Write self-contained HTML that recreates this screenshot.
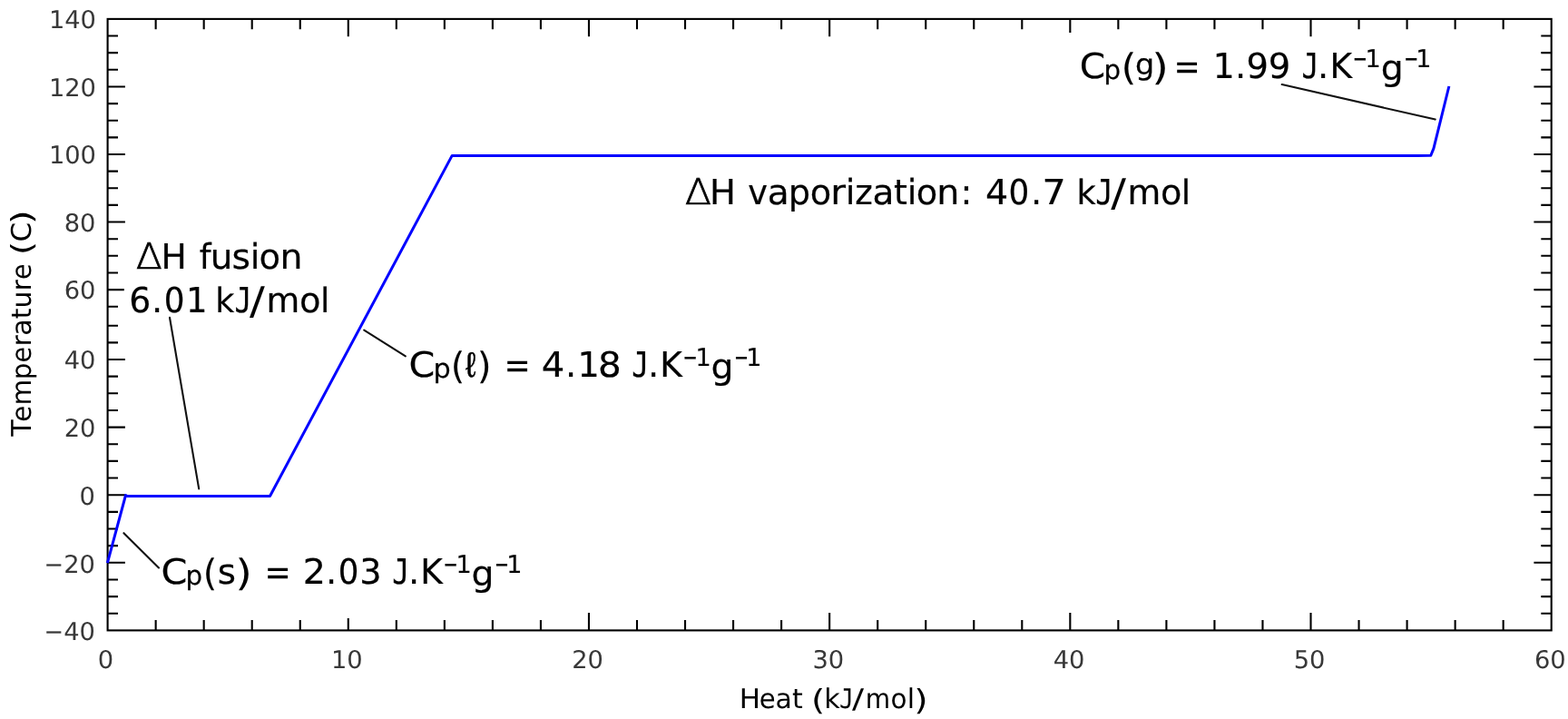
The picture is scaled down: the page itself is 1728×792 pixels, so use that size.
<!DOCTYPE html>
<html lang="en"><head><meta charset="utf-8"><title>Heating curve of water</title>
<style>html,body{margin:0;padding:0;background:#fff;overflow:hidden}svg{display:block}text{font-family:'DejaVu Sans','Liberation Sans',sans-serif;white-space:pre;text-rendering:geometricPrecision}.dvm{font-family:'DejaVu Sans Mono','Liberation Mono',monospace}.ls{font-family:'Liberation Sans','DejaVu Sans',sans-serif}.lse{font-family:'Liberation Serif','DejaVu Serif',serif}.dvx{font-family:'DejaVu Sans','Liberation Sans',sans-serif;font-weight:200}</style></head><body>
<svg width="1728" height="792" viewBox="0 0 1728 792">
<rect width="1728" height="792" fill="#ffffff"/>
<path d="M171.64 694.40v-11.40M171.64 20.90v11.40M224.67 694.40v-11.40M224.67 20.90v11.40M277.71 694.40v-11.40M277.71 20.90v11.40M330.75 694.40v-11.40M330.75 20.90v11.40M383.78 694.40v-13.30M383.78 20.90v19.30M436.82 694.40v-11.40M436.82 20.90v11.40M489.86 694.40v-11.40M489.86 20.90v11.40M542.89 694.40v-11.40M542.89 20.90v11.40M595.93 694.40v-11.40M595.93 20.90v11.40M648.97 694.40v-19.30M648.97 20.90v19.30M702.00 694.40v-11.40M702.00 20.90v11.40M755.04 694.40v-11.40M755.04 20.90v11.40M808.08 694.40v-11.40M808.08 20.90v11.40M861.11 694.40v-11.40M861.11 20.90v11.40M914.15 694.40v-19.30M914.15 20.90v19.30M967.19 694.40v-11.40M967.19 20.90v11.40M1020.22 694.40v-11.40M1020.22 20.90v11.40M1073.26 694.40v-11.40M1073.26 20.90v11.40M1126.30 694.40v-11.40M1126.30 20.90v11.40M1179.33 694.40v-19.30M1179.33 20.90v15.00M1232.37 694.40v-11.40M1232.37 20.90v11.40M1285.41 694.40v-11.40M1285.41 20.90v11.40M1338.44 694.40v-11.40M1338.44 20.90v11.40M1391.48 694.40v-11.40M1391.48 20.90v11.40M1444.52 694.40v-19.30M1444.52 20.90v19.30M1497.55 694.40v-11.40M1497.55 20.90v11.40M1550.59 694.40v-11.40M1550.59 20.90v11.40M1603.63 694.40v-11.40M1603.63 20.90v11.40M1656.66 694.40v-11.40M1656.66 20.90v11.40M118.60 675.75h11.40M1709.70 675.75h-11.40M118.60 657.10h11.40M1709.70 657.10h-11.40M118.60 638.45h11.40M1709.70 638.45h-11.40M118.60 619.80h19.30M1709.70 619.80h-19.30M118.60 601.15h11.40M1709.70 601.15h-11.40M118.60 582.50h11.40M1709.70 582.50h-11.40M118.60 563.85h11.40M1709.70 563.85h-11.40M118.60 545.20h19.30M1709.70 545.20h-19.30M118.60 526.55h11.40M1709.70 526.55h-11.40M118.60 507.90h11.40M1709.70 507.90h-11.40M118.60 489.25h11.40M1709.70 489.25h-11.40M118.60 470.60h19.30M1709.70 470.60h-19.30M118.60 451.95h11.40M1709.70 451.95h-11.40M118.60 433.30h11.40M1709.70 433.30h-11.40M118.60 414.65h11.40M1709.70 414.65h-11.40M118.60 396.00h19.30M1709.70 396.00h-19.30M118.60 377.35h11.40M1709.70 377.35h-11.40M118.60 358.70h11.40M1709.70 358.70h-11.40M118.60 337.74h11.40M1709.70 337.74h-11.40M118.60 319.10h18.20M1709.70 319.10h-19.30M118.60 300.46h11.40M1709.70 300.46h-11.40M118.60 281.82h11.40M1709.70 281.82h-11.40M118.60 263.19h11.40M1709.70 263.19h-11.40M118.60 244.55h19.30M1709.70 244.55h-19.30M118.60 225.91h11.40M1709.70 225.91h-11.40M118.60 207.28h11.40M1709.70 207.28h-11.40M118.60 188.64h11.40M1709.70 188.64h-11.40M118.60 170.00h19.30M1709.70 170.00h-19.30M118.60 151.36h11.40M1709.70 151.36h-11.40M118.60 132.72h11.40M1709.70 132.72h-11.40M118.60 114.09h11.40M1709.70 114.09h-11.40M118.60 95.45h19.30M1709.70 95.45h-19.30M118.60 76.81h11.40M1709.70 76.81h-11.40M118.60 58.17h11.40M1709.70 58.17h-11.40M118.60 39.54h11.40M1709.70 39.54h-11.40" stroke="#000" stroke-width="2.10" fill="none"/>
<rect x="118.60" y="20.90" width="1591.10" height="673.50" fill="none" stroke="#000" stroke-width="2.10"/>
<polyline points="118.4,620.2 138.5,545.5 140.4,546.5 297.5,546.5 498.2,171.4 1562.0,171.4 1576.8,171.2 1579.9,163.6 1596.9,95.0" fill="none" stroke="#0000ff" stroke-width="3" stroke-linejoin="round"/>
<line x1="136.4" y1="587.2" x2="175.0" y2="625.4" stroke="#111" stroke-width="2.1" stroke-linecap="round"/>
<line x1="187.0" y1="349.8" x2="219.2" y2="538.4" stroke="#111" stroke-width="2.1" stroke-linecap="round"/>
<line x1="401.2" y1="363.6" x2="446.9" y2="392.3" stroke="#111" stroke-width="2.1" stroke-linecap="round"/>
<line x1="1412.7" y1="93.1" x2="1581.7" y2="131.6" stroke="#111" stroke-width="2.1" stroke-linecap="round"/>
<text font-size="27.10" fill="#383838"><tspan textLength="17.37" lengthAdjust="spacingAndGlyphs" x="54.04" y="31.00">1</tspan><tspan textLength="17.41" lengthAdjust="spacingAndGlyphs" x="71.27" y="31.00">4</tspan><tspan textLength="17.40" lengthAdjust="spacingAndGlyphs" x="88.52" y="31.00">0</tspan></text>
<text font-size="27.10" fill="#383838"><tspan textLength="17.37" lengthAdjust="spacingAndGlyphs" x="54.04" y="106.00">1</tspan><tspan textLength="17.38" lengthAdjust="spacingAndGlyphs" x="71.28" y="106.00">2</tspan><tspan textLength="17.40" lengthAdjust="spacingAndGlyphs" x="88.52" y="106.00">0</tspan></text>
<text font-size="27.10" fill="#383838"><tspan textLength="17.37" lengthAdjust="spacingAndGlyphs" x="54.04" y="180.00">1</tspan><tspan textLength="17.40" lengthAdjust="spacingAndGlyphs" x="71.27" y="180.00">0</tspan><tspan textLength="17.40" lengthAdjust="spacingAndGlyphs" x="88.52" y="180.00">0</tspan></text>
<text font-size="27.10" fill="#383838"><tspan textLength="17.40" lengthAdjust="spacingAndGlyphs" x="70.72" y="255.00">8</tspan><tspan textLength="17.40" lengthAdjust="spacingAndGlyphs" x="87.97" y="255.00">0</tspan></text>
<text font-size="27.10" fill="#383838"><tspan textLength="17.40" lengthAdjust="spacingAndGlyphs" x="70.72" y="329.00">6</tspan><tspan textLength="17.40" lengthAdjust="spacingAndGlyphs" x="87.97" y="329.00">0</tspan></text>
<text font-size="27.10" fill="#383838"><tspan textLength="17.41" lengthAdjust="spacingAndGlyphs" x="70.72" y="406.00">4</tspan><tspan textLength="17.40" lengthAdjust="spacingAndGlyphs" x="87.97" y="406.00">0</tspan></text>
<text font-size="27.10" fill="#383838"><tspan textLength="17.38" lengthAdjust="spacingAndGlyphs" x="70.73" y="481.00">2</tspan><tspan textLength="17.40" lengthAdjust="spacingAndGlyphs" x="87.97" y="481.00">0</tspan></text>
<text font-size="27.10" fill="#383838"><tspan textLength="17.40" lengthAdjust="spacingAndGlyphs" x="87.57" y="556.00">0</tspan></text>
<text font-size="27.10" fill="#383838"><tspan textLength="21.57" lengthAdjust="spacingAndGlyphs" x="48.51" y="631.00">−</tspan><tspan textLength="17.38" lengthAdjust="spacingAndGlyphs" x="70.33" y="631.00">2</tspan><tspan textLength="17.40" lengthAdjust="spacingAndGlyphs" x="87.57" y="631.00">0</tspan></text>
<text font-size="27.10" fill="#383838"><tspan textLength="21.57" lengthAdjust="spacingAndGlyphs" x="48.51" y="705.00">−</tspan><tspan textLength="17.41" lengthAdjust="spacingAndGlyphs" x="70.32" y="705.00">4</tspan><tspan textLength="17.40" lengthAdjust="spacingAndGlyphs" x="87.57" y="705.00">0</tspan></text>
<text font-size="27.10" fill="#383838"><tspan textLength="17.40" lengthAdjust="spacingAndGlyphs" x="107.75" y="736.00">0</tspan></text>
<text font-size="27.10" fill="#383838"><tspan textLength="17.37" lengthAdjust="spacingAndGlyphs" x="365.12" y="736.00">1</tspan><tspan textLength="17.40" lengthAdjust="spacingAndGlyphs" x="382.36" y="736.00">0</tspan></text>
<text font-size="27.10" fill="#383838"><tspan textLength="17.38" lengthAdjust="spacingAndGlyphs" x="630.30" y="736.00">2</tspan><tspan textLength="17.40" lengthAdjust="spacingAndGlyphs" x="647.54" y="736.00">0</tspan></text>
<text font-size="27.10" fill="#383838"><tspan textLength="17.39" lengthAdjust="spacingAndGlyphs" x="895.48" y="736.00">3</tspan><tspan textLength="17.40" lengthAdjust="spacingAndGlyphs" x="912.72" y="736.00">0</tspan></text>
<text font-size="27.10" fill="#383838"><tspan textLength="17.41" lengthAdjust="spacingAndGlyphs" x="1160.65" y="736.00">4</tspan><tspan textLength="17.40" lengthAdjust="spacingAndGlyphs" x="1177.91" y="736.00">0</tspan></text>
<text font-size="27.10" fill="#383838"><tspan textLength="17.38" lengthAdjust="spacingAndGlyphs" x="1425.85" y="736.00">5</tspan><tspan textLength="17.40" lengthAdjust="spacingAndGlyphs" x="1443.09" y="736.00">0</tspan></text>
<text font-size="27.10" fill="#383838"><tspan textLength="17.40" lengthAdjust="spacingAndGlyphs" x="1691.02" y="736.00">6</tspan><tspan textLength="17.40" lengthAdjust="spacingAndGlyphs" x="1708.27" y="736.00">0</tspan></text>
<text font-size="38.40" fill="#000000" stroke="#000000" stroke-width="0.20"><tspan textLength="28.92" lengthAdjust="spacingAndGlyphs" x="177.55" y="643.00">C</tspan><tspan textLength="18.62" lengthAdjust="spacingAndGlyphs" x="204.61" y="644.00" font-size="29.30">p</tspan><tspan textLength="15.58" lengthAdjust="spacingAndGlyphs" x="223.74" y="645.00" font-size="40.50" stroke="none">(</tspan><tspan textLength="20.26" lengthAdjust="spacingAndGlyphs" x="239.67" y="643.00">s</tspan><tspan textLength="18.71" lengthAdjust="spacingAndGlyphs" x="259.33" y="645.00" font-size="40.50" stroke="none">)</tspan><tspan x="280.00" y="643.00"> </tspan><tspan textLength="29.25" lengthAdjust="spacingAndGlyphs" x="291.38" y="644.00" font-size="40.00" stroke="none">=</tspan><tspan x="325.00" y="643.00"> </tspan><tspan textLength="25.22" lengthAdjust="spacingAndGlyphs" x="333.87" y="643.00">2</tspan><tspan x="359.02" y="643.00">.</tspan><tspan textLength="22.66" lengthAdjust="spacingAndGlyphs" x="372.83" y="643.00">0</tspan><tspan textLength="24.32" lengthAdjust="spacingAndGlyphs" x="396.16" y="643.00">3</tspan><tspan x="422.00" y="643.00"> </tspan><tspan textLength="19.00" lengthAdjust="spacingAndGlyphs" x="432.30" y="643.00" class="dvm">J</tspan><tspan x="449.92" y="643.00">.</tspan><tspan textLength="24.65" lengthAdjust="spacingAndGlyphs" x="463.29" y="643.00">K</tspan><tspan textLength="16.26" lengthAdjust="spacingAndGlyphs" x="488.62" y="631.00" font-size="28.00">−</tspan><tspan x="502.42" y="631.00" font-size="27.00">1</tspan><tspan textLength="25.00" lengthAdjust="spacingAndGlyphs" x="519.60" y="645.00">g</tspan><tspan textLength="16.00" lengthAdjust="spacingAndGlyphs" x="545.05" y="631.00" font-size="28.00">−</tspan><tspan x="558.27" y="631.00" font-size="27.00">1</tspan></text>
<text font-size="38.40" fill="#000000" stroke="#000000" stroke-width="0.20"><tspan textLength="28.80" lengthAdjust="spacingAndGlyphs" x="450.56" y="415.00">C</tspan><tspan textLength="19.27" lengthAdjust="spacingAndGlyphs" x="477.42" y="416.00" font-size="29.30">p</tspan><tspan textLength="15.58" lengthAdjust="spacingAndGlyphs" x="496.74" y="417.00" font-size="40.50" stroke="none">(</tspan><tspan textLength="11.50" lengthAdjust="spacingAndGlyphs" x="513.05" y="415.00" class="ls" font-size="38.60" stroke-width="0.50">ℓ</tspan><tspan textLength="15.93" lengthAdjust="spacingAndGlyphs" x="525.71" y="417.00" font-size="40.50" stroke="none">)</tspan><tspan x="544.00" y="415.00"> </tspan><tspan textLength="29.25" lengthAdjust="spacingAndGlyphs" x="555.38" y="416.00" font-size="40.00" stroke="none">=</tspan><tspan x="589.00" y="415.00"> </tspan><tspan textLength="25.57" lengthAdjust="spacingAndGlyphs" x="596.81" y="415.00">4</tspan><tspan x="623.02" y="415.00">.</tspan><tspan textLength="24.26" lengthAdjust="spacingAndGlyphs" x="636.49" y="415.00">1</tspan><tspan textLength="25.77" lengthAdjust="spacingAndGlyphs" x="659.13" y="415.00">8</tspan><tspan x="686.00" y="415.00"> </tspan><tspan textLength="19.00" lengthAdjust="spacingAndGlyphs" x="696.30" y="415.00" class="dvm">J</tspan><tspan x="713.92" y="415.00">.</tspan><tspan textLength="24.65" lengthAdjust="spacingAndGlyphs" x="727.29" y="415.00">K</tspan><tspan textLength="16.26" lengthAdjust="spacingAndGlyphs" x="752.62" y="403.00" font-size="28.00">−</tspan><tspan x="766.42" y="403.00" font-size="27.00">1</tspan><tspan textLength="25.00" lengthAdjust="spacingAndGlyphs" x="783.60" y="417.00">g</tspan><tspan textLength="16.00" lengthAdjust="spacingAndGlyphs" x="809.05" y="403.00" font-size="28.00">−</tspan><tspan x="822.27" y="403.00" font-size="27.00">1</tspan></text>
<text font-size="38.40" fill="#000000" stroke="#000000" stroke-width="0.20"><tspan textLength="28.45" lengthAdjust="spacingAndGlyphs" x="1189.89" y="86.00">C</tspan><tspan textLength="18.62" lengthAdjust="spacingAndGlyphs" x="1216.61" y="87.00" font-size="29.30">p</tspan><tspan textLength="16.97" lengthAdjust="spacingAndGlyphs" x="1235.44" y="88.00" font-size="40.50" stroke="none">(</tspan><tspan textLength="21.23" lengthAdjust="spacingAndGlyphs" x="1251.13" y="82.00" font-size="32.00">g</tspan><tspan textLength="18.71" lengthAdjust="spacingAndGlyphs" x="1269.33" y="88.00" font-size="40.50" stroke="none">)</tspan><tspan x="1282.10" y="86.00"> </tspan><tspan textLength="29.25" lengthAdjust="spacingAndGlyphs" x="1293.48" y="87.00" font-size="40.00" stroke="none">=</tspan><tspan x="1327.10" y="86.00"> </tspan><tspan textLength="23.96" lengthAdjust="spacingAndGlyphs" x="1336.64" y="86.00">1</tspan><tspan x="1361.12" y="86.00">.</tspan><tspan textLength="24.48" lengthAdjust="spacingAndGlyphs" x="1373.45" y="86.00">9</tspan><tspan textLength="24.48" lengthAdjust="spacingAndGlyphs" x="1397.65" y="86.00">9</tspan><tspan x="1424.10" y="86.00"> </tspan><tspan textLength="19.00" lengthAdjust="spacingAndGlyphs" x="1434.40" y="86.00" class="dvm">J</tspan><tspan x="1452.02" y="86.00">.</tspan><tspan textLength="24.65" lengthAdjust="spacingAndGlyphs" x="1465.39" y="86.00">K</tspan><tspan textLength="16.26" lengthAdjust="spacingAndGlyphs" x="1490.72" y="74.00" font-size="28.00">−</tspan><tspan x="1504.52" y="74.00" font-size="27.00">1</tspan><tspan textLength="25.00" lengthAdjust="spacingAndGlyphs" x="1521.70" y="88.00">g</tspan><tspan textLength="16.00" lengthAdjust="spacingAndGlyphs" x="1547.15" y="74.00" font-size="28.00">−</tspan><tspan x="1560.37" y="74.00" font-size="27.00">1</tspan></text>
<text font-size="38.40" fill="#000000" stroke="#000000" stroke-width="0.20"><tspan textLength="29.05" lengthAdjust="spacingAndGlyphs" x="149.79" y="296.00" class="dvx" font-size="39.60" stroke-width="0.70">Δ</tspan><tspan textLength="28.22" lengthAdjust="spacingAndGlyphs" x="177.39" y="296.00">H</tspan><tspan x="208.00" y="296.00"> </tspan><tspan textLength="12.79" lengthAdjust="spacingAndGlyphs" x="219.84" y="296.00">f</tspan><tspan textLength="24.70" lengthAdjust="spacingAndGlyphs" x="231.66" y="296.00">u</tspan><tspan textLength="20.50" lengthAdjust="spacingAndGlyphs" x="255.54" y="296.00">s</tspan><tspan x="275.66" y="296.00">i</tspan><tspan textLength="23.59" lengthAdjust="spacingAndGlyphs" x="285.45" y="296.00">o</tspan><tspan textLength="24.98" lengthAdjust="spacingAndGlyphs" x="308.60" y="296.00">n</tspan></text>
<text font-size="38.40" fill="#000000" stroke="#000000" stroke-width="0.20"><tspan textLength="24.08" lengthAdjust="spacingAndGlyphs" x="142.33" y="344.00">6</tspan><tspan x="167.07" y="344.00">.</tspan><tspan textLength="22.79" lengthAdjust="spacingAndGlyphs" x="180.71" y="344.00">0</tspan><tspan textLength="23.52" lengthAdjust="spacingAndGlyphs" x="204.91" y="344.00">1</tspan><tspan x="230.00" y="344.00"> </tspan><tspan textLength="21.06" lengthAdjust="spacingAndGlyphs" x="237.37" y="344.00" font-size="37.40">k</tspan><tspan textLength="18.85" lengthAdjust="spacingAndGlyphs" x="258.61" y="344.00" class="dvm">J</tspan><tspan textLength="16.85" lengthAdjust="spacingAndGlyphs" x="275.07" y="346.00" font-size="42.30" stroke="none">/</tspan><tspan textLength="36.79" lengthAdjust="spacingAndGlyphs" x="293.55" y="344.00">m</tspan><tspan textLength="23.59" lengthAdjust="spacingAndGlyphs" x="329.95" y="344.00">o</tspan><tspan x="352.95" y="344.00" font-size="37.40">l</tspan></text>
<text font-size="38.40" fill="#000000" stroke="#000000" stroke-width="0.20"><tspan textLength="29.27" lengthAdjust="spacingAndGlyphs" x="754.68" y="225.00" class="dvx" font-size="39.60" stroke-width="0.70">Δ</tspan><tspan textLength="28.89" lengthAdjust="spacingAndGlyphs" x="781.90" y="225.00">H</tspan><tspan x="812.00" y="225.00"> </tspan><tspan textLength="21.74" lengthAdjust="spacingAndGlyphs" x="824.28" y="225.00">v</tspan><tspan textLength="23.95" lengthAdjust="spacingAndGlyphs" x="845.73" y="225.00">a</tspan><tspan textLength="24.33" lengthAdjust="spacingAndGlyphs" x="868.69" y="225.00">p</tspan><tspan textLength="23.46" lengthAdjust="spacingAndGlyphs" x="892.86" y="225.00">o</tspan><tspan textLength="16.75" lengthAdjust="spacingAndGlyphs" x="915.17" y="225.00">r</tspan><tspan x="931.81" y="225.00">i</tspan><tspan textLength="19.55" lengthAdjust="spacingAndGlyphs" x="942.27" y="225.00">z</tspan><tspan textLength="23.95" lengthAdjust="spacingAndGlyphs" x="961.53" y="225.00">a</tspan><tspan textLength="14.88" lengthAdjust="spacingAndGlyphs" x="985.06" y="225.00">t</tspan><tspan x="999.76" y="225.00">i</tspan><tspan textLength="23.46" lengthAdjust="spacingAndGlyphs" x="1009.76" y="225.00">o</tspan><tspan textLength="25.12" lengthAdjust="spacingAndGlyphs" x="1032.28" y="225.00">n</tspan><tspan x="1058.42" y="225.00">:</tspan><tspan x="1074.00" y="225.00"> </tspan><tspan textLength="25.21" lengthAdjust="spacingAndGlyphs" x="1085.94" y="225.00">4</tspan><tspan textLength="22.79" lengthAdjust="spacingAndGlyphs" x="1111.61" y="225.00">0</tspan><tspan x="1136.02" y="225.00">.</tspan><tspan textLength="26.26" lengthAdjust="spacingAndGlyphs" x="1148.49" y="225.00">7</tspan><tspan x="1178.00" y="225.00"> </tspan><tspan textLength="21.18" lengthAdjust="spacingAndGlyphs" x="1186.45" y="225.00" font-size="37.40">k</tspan><tspan textLength="19.43" lengthAdjust="spacingAndGlyphs" x="1207.26" y="225.00" class="dvm">J</tspan><tspan textLength="16.75" lengthAdjust="spacingAndGlyphs" x="1224.17" y="227.00" font-size="42.30" stroke="none">/</tspan><tspan textLength="36.79" lengthAdjust="spacingAndGlyphs" x="1242.45" y="225.00">m</tspan><tspan textLength="23.46" lengthAdjust="spacingAndGlyphs" x="1278.96" y="225.00">o</tspan><tspan x="1301.85" y="225.00" font-size="37.40">l</tspan></text>
<text font-size="30.00" fill="#000000"><tspan textLength="23.28" lengthAdjust="spacingAndGlyphs" x="814.74" y="780.00">H</tspan><tspan textLength="17.90" lengthAdjust="spacingAndGlyphs" x="836.77" y="780.00">e</tspan><tspan textLength="18.37" lengthAdjust="spacingAndGlyphs" x="854.57" y="780.00">a</tspan><tspan x="872.97" y="780.00">t</tspan><tspan x="888.00" y="780.00"> </tspan><tspan textLength="15.23" lengthAdjust="spacingAndGlyphs" x="894.02" y="781.56" font-size="31.64" stroke="none">(</tspan><tspan textLength="17.48" lengthAdjust="spacingAndGlyphs" x="908.33" y="780.00">k</tspan><tspan textLength="15.94" lengthAdjust="spacingAndGlyphs" x="925.07" y="780.00" class="dvm">J</tspan><tspan textLength="13.05" lengthAdjust="spacingAndGlyphs" x="938.98" y="780.00">/</tspan><tspan textLength="27.39" lengthAdjust="spacingAndGlyphs" x="953.82" y="780.00">m</tspan><tspan textLength="17.98" lengthAdjust="spacingAndGlyphs" x="981.45" y="780.00">o</tspan><tspan x="999.68" y="780.00">l</tspan><tspan textLength="15.41" lengthAdjust="spacingAndGlyphs" x="1007.31" y="781.56" font-size="31.64" stroke="none">)</tspan></text>
<g transform="translate(33.9,481) rotate(-90)"><text font-size="30.00" fill="#000000"><tspan textLength="18.47" lengthAdjust="spacingAndGlyphs" x="0.16" y="0.00">T</tspan><tspan textLength="18.03" lengthAdjust="spacingAndGlyphs" x="16.16" y="0.00">e</tspan><tspan textLength="28.74" lengthAdjust="spacingAndGlyphs" x="34.60" y="0.00">m</tspan><tspan textLength="18.49" lengthAdjust="spacingAndGlyphs" x="62.63" y="0.00">p</tspan><tspan textLength="17.54" lengthAdjust="spacingAndGlyphs" x="81.50" y="0.00">e</tspan><tspan x="99.47" y="0.00">r</tspan><tspan textLength="18.37" lengthAdjust="spacingAndGlyphs" x="111.37" y="0.00">a</tspan><tspan x="129.77" y="0.00">t</tspan><tspan textLength="19.03" lengthAdjust="spacingAndGlyphs" x="141.42" y="0.00">u</tspan><tspan x="160.57" y="0.00">r</tspan><tspan textLength="17.54" lengthAdjust="spacingAndGlyphs" x="173.10" y="0.00">e</tspan><tspan x="195.00" y="0.00"> </tspan><tspan textLength="15.23" lengthAdjust="spacingAndGlyphs" x="200.02" y="1.56" font-size="31.64" stroke="none">(</tspan><tspan textLength="21.79" lengthAdjust="spacingAndGlyphs" x="214.62" y="0.00">C</tspan><tspan textLength="15.58" lengthAdjust="spacingAndGlyphs" x="234.08" y="1.56" font-size="31.64" stroke="none">)</tspan></text></g>
</svg></body></html>
